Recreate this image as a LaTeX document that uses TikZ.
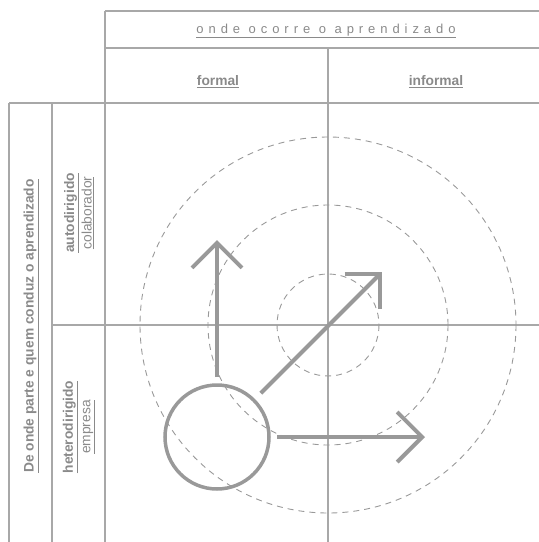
\documentclass[tikz,border=0pt]{standalone}
\usepackage{fontspec}
\setmainfont{Liberation Sans}
\newfontfamily\spacedfont{Liberation Sans}[LetterSpace=38]
\usepackage{xcolor}
\usepackage{tikz}
\usetikzlibrary{arrows.meta}
\definecolor{GridGray}{HTML}{A8A8A8}
\definecolor{InkGray}{HTML}{999999}
\definecolor{TextGray}{HTML}{8A8A8A}
\newcommand{\ul}[1]{\underline{#1}}

\begin{document}
\begin{tikzpicture}[
    x=1pt, y=-1pt,
    grid/.style={draw=GridGray, line width=1.4pt},
    ring/.style={draw=InkGray, line width=0.9pt, dash pattern=on 6pt off 5pt},
    hubcircle/.style={circle, draw=InkGray, line width=3.5pt, minimum size=104pt,
      inner sep=0pt, outer sep=0pt},
    arr/.style={draw=InkGray, line width=4pt,
      -{Straight Barb[length=25pt, width=50pt, sharp]}},
    title/.style={text=TextGray, font=\fontsize{13}{15}\spacedfont},
    colhead/.style={text=TextGray, font=\fontsize{13.8}{16}\selectfont\bfseries},
    rowhead/.style={text=TextGray, rotate=90, align=center,
      font=\fontsize{13.8}{17.5}\selectfont}
  ]
    \useasboundingbox (0,0) rectangle (539,542);

    % table lines
    \draw[grid] (105,11) -- (539,11);
    \draw[grid] (105,48) -- (539,48);
    \draw[grid] (9,103) -- (539,103);
    \draw[grid] (52,325) -- (539,325);
    \draw[grid] (105,11) -- (105,542);
    \draw[grid] (328,48) -- (328,542);
    \draw[grid] (9,103) -- (9,542);
    \draw[grid] (52,103) -- (52,542);

    % headings
    \node[title] (onde) at (326,31) {\ul{onde ocorre o aprendizado}};
    \node[colhead] (formal) at (218,82) {\ul{formal}};
    \node[colhead] (informal) at (436,82) {\ul{informal}};
    \node[rowhead, font=\fontsize{13.8}{16}\selectfont\bfseries] (quem) at (31,326)
      {\ul{De onde parte e quem conduz o aprendizado}};
    \node[rowhead] (auto) at (79,213)
      {{\bfseries\ul{autodirigido}}\\\ul{colaborador}};
    \node[rowhead] (hetero) at (79,427)
      {{\bfseries\ul{heterodirigido}}\\\ul{empresa}};

    % rings
    \coordinate (centro) at (328,325);
    \foreach \r in {51,120,188}
      \draw[ring] (centro) circle[radius=\r];

    % hub and arrows
    \node[hubcircle] (hub) at (217,437) {};
    \coordinate (alto) at (217,240);
    \coordinate (diag) at (382,272);
    \coordinate (lado) at (425,437);

    \draw[arr, shorten <=8pt] (hub.north) -- (alto);
    \draw[arr, shorten <=10pt] (hub.45) -- (diag);
    \draw[arr, shorten <=8pt] (hub.east) -- (lado);
  \end{tikzpicture}
\end{document}
